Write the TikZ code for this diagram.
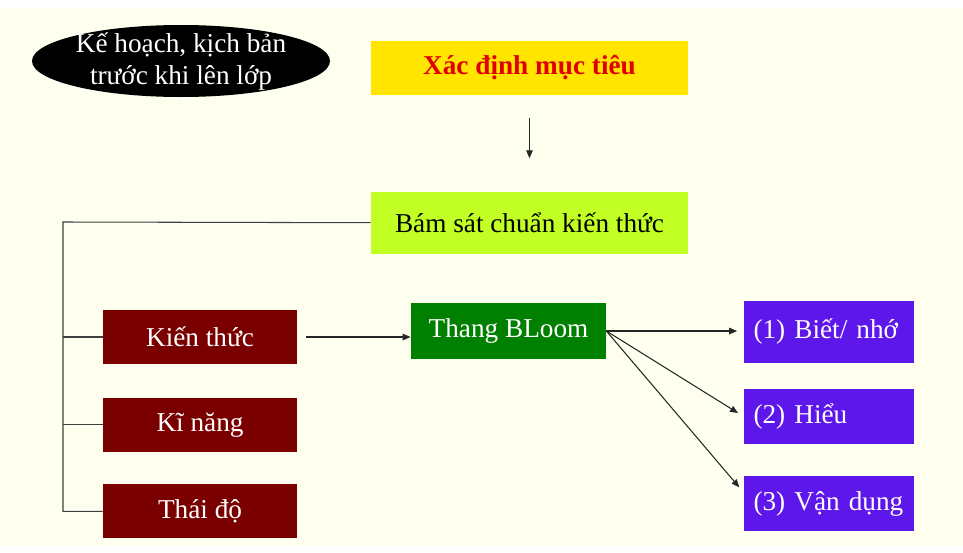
\documentclass[tikz,border=0pt]{standalone}
\usepackage{fontspec}
\setmainfont{Liberation Serif}
\usetikzlibrary{arrows.meta,positioning}
\definecolor{cream}{HTML}{FFFFF0}
\definecolor{goalyel}{HTML}{FFE500}
\definecolor{goalred}{HTML}{E00000}
\definecolor{lime}{HTML}{C2FF24}
\definecolor{maroon}{HTML}{7A0000}
\definecolor{bloomgr}{HTML}{008000}
\definecolor{violet}{HTML}{5E17EB}
\tikzset{
  txt/.style   ={font=\fontsize{15.5}{18.2}\selectfont},
  plan/.style  ={txt, text=white, align=center, inner sep=0pt},
  goal/.style  ={txt, fill=goalyel, text=goalred, font=\fontsize{15.5}{18.2}\selectfont\bfseries,
                 minimum width=63.4mm, minimum height=10.8mm},
  std/.style   ={txt, fill=lime, minimum width=63.4mm, minimum height=12.4mm},
  skill/.style ={txt, fill=maroon, text=white, minimum width=38.8mm, minimum height=10.8mm},
  bloom/.style ={txt, fill=bloomgr, text=white, minimum width=39mm, minimum height=11.2mm},
  level/.style ={txt, fill=violet, text=white, minimum width=34mm, minimum height=12.4mm,
                 text width=30mm, align=left, inner xsep=2mm},
  wire/.style  ={line width=0.6pt, black!75},
  arr/.style   ={-{Triangle[length=1.6mm,width=1.3mm]}, line width=0.6pt, black!85},
}
\begin{document}
\begin{tikzpicture}[x=0.2mm, y=-0.2mm, node distance=6.6mm]
\useasboundingbox (0,0) rectangle (963,552);
\fill[cream] (0,8) rectangle (963,546);

% ---- heading ----------------------------------------------------------
\fill[black] (181,61) ellipse [x radius=149, y radius=36];
\node[plan] (plan) at (181,62) {Kế hoạch, kịch bản\\trước khi lên lớp};

\node[goal] (goal) at (529.5,68) {Xác định mục tiêu};
\node[std, below=19.2mm of goal] (bam) {Bám sát chuẩn kiến thức};
\draw[arr, shorten <=4.6mm, shorten >=6.6mm] (goal) -- (bam);

% ---- content ----------------------------------------------------------
\node[skill] (kien) at (200,337) {Kiến thức};
\node[skill, below=6.6mm of kien] (kinang) {Kĩ năng};
\node[skill, below=6.4mm of kinang] (thai) {Thái độ};

\coordinate (rail) at (63,222);
\draw[wire] (bam.west) -- (rail) |- (thai.west);
\draw[wire] (rail |- kien.west) -- (kien.west);
\draw[wire] (rail |- kinang.west) -- (kinang.west);

% ---- levels -----------------------------------------------------------
\node[bloom] (bloom) at (508.5,331) {Thang BLoom};
\node[level] (biet) at (828.5,332) {(1) Biết/ nhớ};
\node[level, minimum height=11mm, below=5mm of biet] (hieu) {(2) Hiểu};
\node[level, minimum height=11mm, below=6.4mm of hieu] (vandung) {(3) Vận dụng};

\draw[arr, shorten <=1.8mm] (kien.east) -- (kien.east -| bloom.west);
\draw[arr, shorten >=1.2mm] (bloom.east) -- (bloom.east -| biet.west);
\draw[arr, shorten >=1.2mm] (bloom.east) -- (hieu.west);
\draw[arr, shorten >=1.2mm] (bloom.east) -- (vandung.172);

\end{tikzpicture}
\end{document}
